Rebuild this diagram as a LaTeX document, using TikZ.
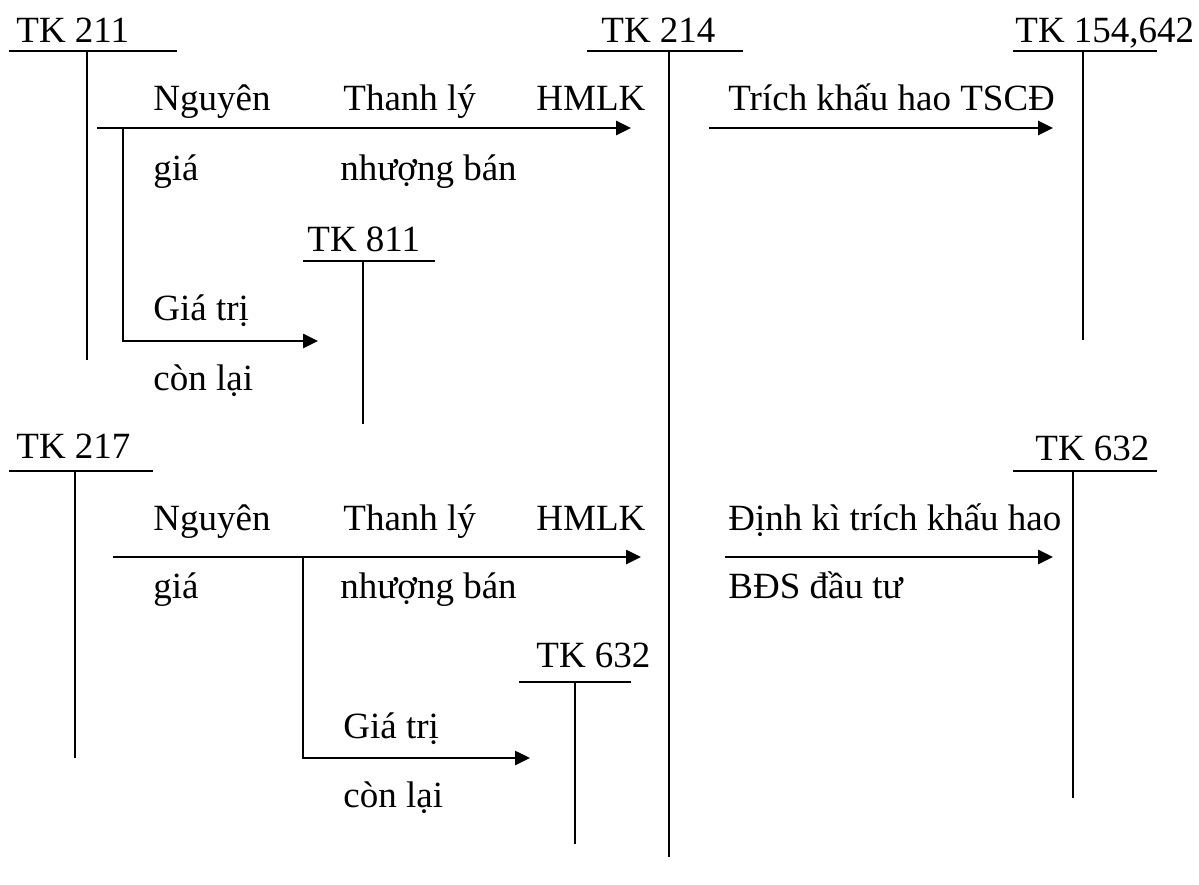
\documentclass[tikz,border=0pt]{standalone}
\usepackage{fontspec}
\setmainfont{Liberation Serif}
\usetikzlibrary{arrows.meta}
\begin{document}
\begin{tikzpicture}[x=0.5pt,y=-0.5pt,
  lbl/.style={anchor=base west, inner sep=0pt, font=\fontsize{18.5}{20}\selectfont},
  tline/.style={line width=1pt},
  flow/.style={line width=1.3pt, -{Triangle[length=7.5pt,width=7pt]}},
]
\useasboundingbox (0,0) rectangle (1199,884);

% ---- T-accounts: title, top bar, stem ----
\node[lbl] (tk211) at (16,42) {TK 211};
\coordinate (tk211l) at (9,51);    \coordinate (tk211r) at (177,51);
\coordinate (tk211t) at (87,51);   \coordinate (tk211b) at (87,360);
\draw[tline] (tk211l) -- (tk211r) (tk211t) -- (tk211b);

\node[lbl] (tk214) at (601,42) {TK 214};
\coordinate (tk214l) at (587,51);  \coordinate (tk214r) at (743,51);
\coordinate (tk214t) at (669,51);  \coordinate (tk214b) at (669,857);
\draw[tline] (tk214l) -- (tk214r) (tk214t) -- (tk214b);

\node[lbl] (tk154) at (1015,42) {TK 154,642};
\coordinate (tk154l) at (1013,51); \coordinate (tk154r) at (1157,51);
\coordinate (tk154t) at (1083,51); \coordinate (tk154b) at (1083,340);
\draw[tline] (tk154l) -- (tk154r) (tk154t) -- (tk154b);

\node[lbl] (tk811) at (307,251) {TK 811};
\coordinate (tk811l) at (303,261); \coordinate (tk811r) at (435,261);
\coordinate (tk811t) at (363,261); \coordinate (tk811b) at (363,424);
\draw[tline] (tk811l) -- (tk811r) (tk811t) -- (tk811b);

\node[lbl] (tk217) at (16,458) {TK 217};
\coordinate (tk217l) at (9,471);   \coordinate (tk217r) at (153,471);
\coordinate (tk217t) at (75,471);  \coordinate (tk217b) at (75,758);
\draw[tline] (tk217l) -- (tk217r) (tk217t) -- (tk217b);

\node[lbl] (tk632r) at (1035,460) {TK 632};
\coordinate (tk632rl) at (1013,471); \coordinate (tk632rr) at (1157,471);
\coordinate (tk632rt) at (1073,471); \coordinate (tk632rb) at (1073,798);
\draw[tline] (tk632rl) -- (tk632rr) (tk632rt) -- (tk632rb);

\node[lbl] (tk632m) at (536,667) {TK 632};
\coordinate (tk632ml) at (519,682); \coordinate (tk632mr) at (631,682);
\coordinate (tk632mt) at (575,682); \coordinate (tk632mb) at (575,844);
\draw[tline] (tk632ml) -- (tk632mr) (tk632mt) -- (tk632mb);

% ---- Disposal of TK 211 ----
\coordinate (s1) at (97,128);   \coordinate (e1) at (631,128);
\coordinate (k1) at (123,128);  \coordinate (g1) at (318,341);
\draw[flow] (s1) -- (e1);
\draw[flow] (k1) |- (g1);
\node[lbl] (n1a) at (153,110) {Nguyên};
\node[lbl] (n1b) at (153,180) {giá};
\node[lbl] (n1c) at (343,110) {Thanh lý};
\node[lbl] (n1d) at (340,180) {nhượng bán};
\node[lbl] (n1e) at (536,110) {HMLK};
\node[lbl] (n1f) at (153,320) {Giá trị};
\node[lbl] (n1g) at (153,390) {còn lại};

% ---- Depreciation charge to TK 154,642 ----
\coordinate (s2) at (709,128);  \coordinate (e2) at (1053,128);
\draw[flow] (s2) -- (e2);
\node[lbl] (n2a) at (728,110) {Trích khấu hao TSCĐ};

% ---- Disposal of TK 217 ----
\coordinate (s3) at (113,557);  \coordinate (e3) at (641,557);
\coordinate (k3) at (303,557);  \coordinate (g3) at (530,758);
\draw[flow] (s3) -- (e3);
\draw[flow] (k3) |- (g3);
\node[lbl] (n3a) at (153,530) {Nguyên};
\node[lbl] (n3b) at (153,598) {giá};
\node[lbl] (n3c) at (343,530) {Thanh lý};
\node[lbl] (n3d) at (340,598) {nhượng bán};
\node[lbl] (n3e) at (536,530) {HMLK};
\node[lbl] (n3f) at (343,738) {Giá trị};
\node[lbl] (n3g) at (343,807) {còn lại};

% ---- Periodic depreciation of investment property ----
\coordinate (s4) at (725,557);  \coordinate (e4) at (1053,557);
\draw[flow] (s4) -- (e4);
\node[lbl] (n4a) at (728,530) {Định kì trích khấu hao};
\node[lbl] (n4b) at (728,598) {BĐS đầu tư};
\end{tikzpicture}
\end{document}
